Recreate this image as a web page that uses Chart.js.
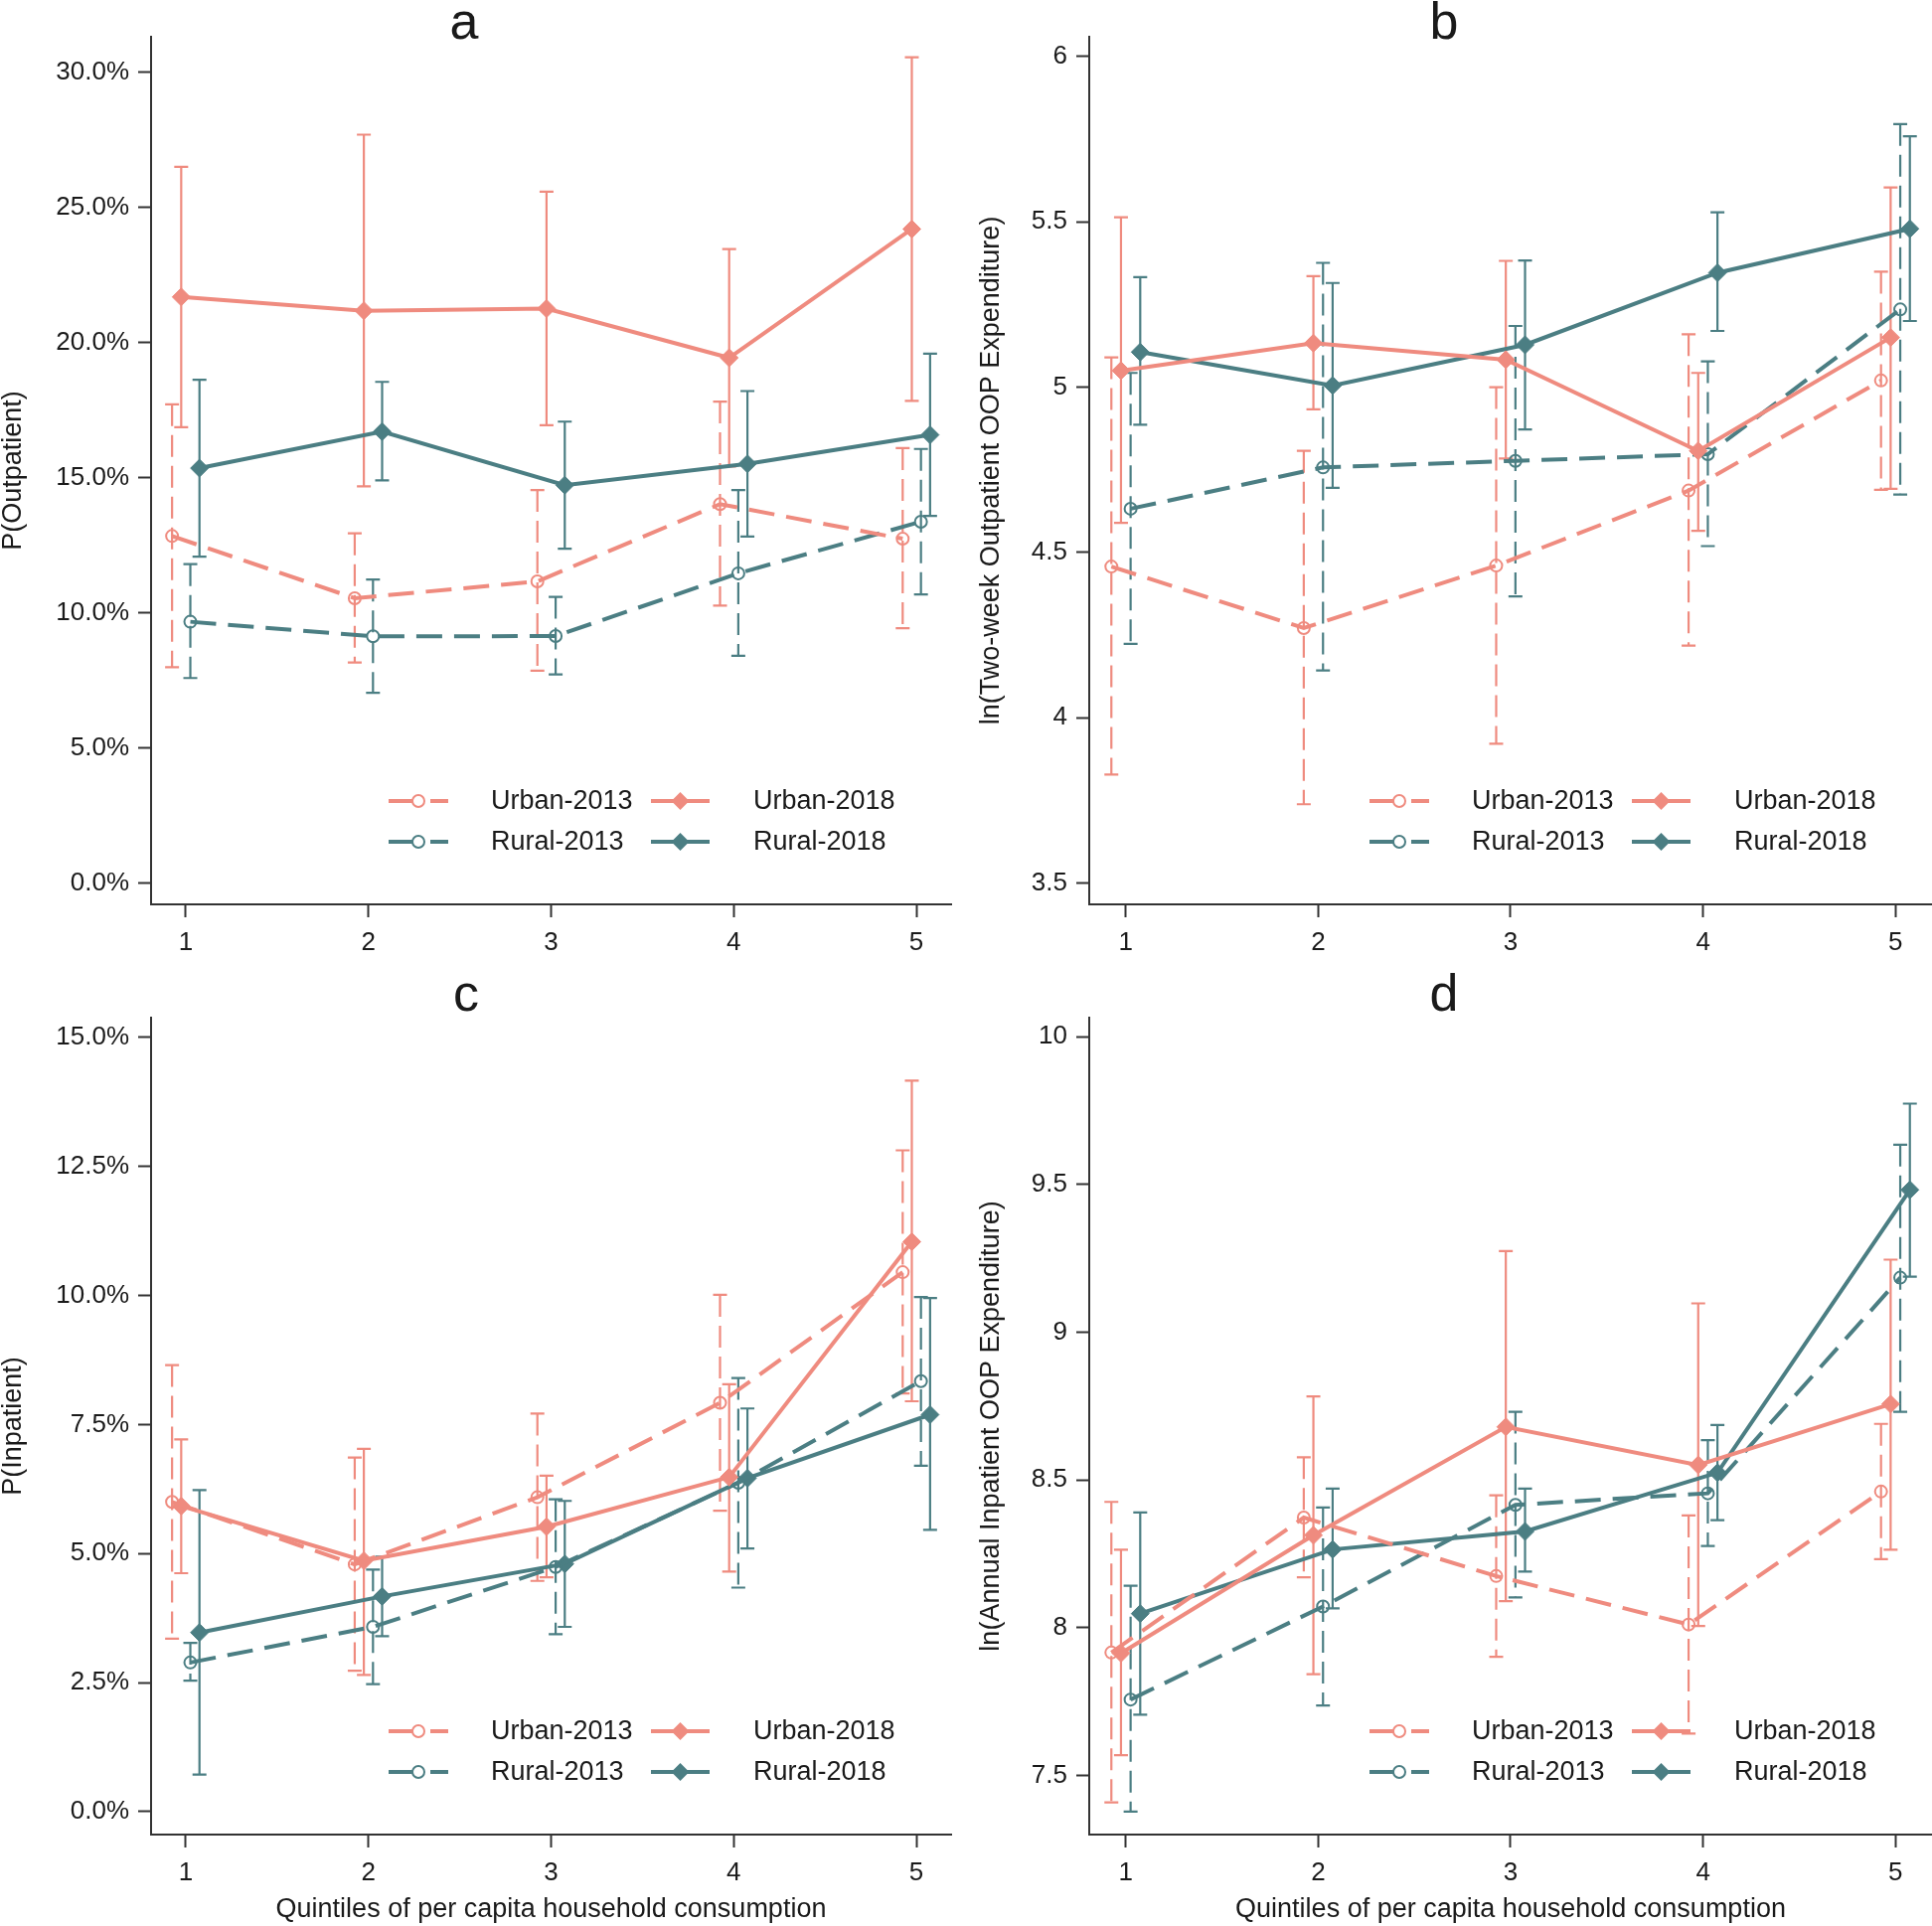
<!DOCTYPE html>
<html>
<head>
<meta charset="utf-8">
<title>Outpatient / inpatient use by consumption quintile</title>
<script src="https://cdn.jsdelivr.net/npm/chart.js@4.4.1/dist/chart.umd.min.js"></script>
<style>
    html, body { margin: 0; padding: 0; background: #fff; overflow: hidden; }
    #wrap { position: relative; width: 1944px; height: 1938px; overflow: hidden; }
    canvas { position: absolute; }
</style>
</head>
<body>
<div id="wrap">
    <canvas id="chartA" width="972" height="968" style="left:0;top:0"></canvas>
    <canvas id="chartB" width="969" height="968" style="left:975px;top:0"></canvas>
    <canvas id="chartC" width="972" height="970" style="left:0;top:968px"></canvas>
    <canvas id="chartD" width="969" height="970" style="left:975px;top:968px"></canvas>
</div>
<script>
// ============================================================
// data
// ============================================================

var QUINTILES = [1, 2, 3, 4, 5];
var SERIES    = ["Urban-2013", "Urban-2018", "Rural-2013", "Rural-2018"];
var DODGE     = [-0.075, -0.025, 0.025, 0.075];   // small horizontal shift per series
var X_TICKS   = [1, 2, 3, 4, 5];
var X_TITLE   = "Quintiles of per capita household consumption";

// a - P(Outpatient), in %
var A_U13    = [12.84, 10.54, 11.16, 14.02, 12.74];
var A_U13_LO = [7.99, 8.16, 7.86, 10.27, 9.43];
var A_U13_HI = [17.71, 12.94, 14.54, 17.81, 16.09];
var A_U18    = [21.68, 21.17, 21.25, 19.43, 24.19];
var A_U18_LO = [16.86, 14.68, 16.94, 15.41, 17.84];
var A_U18_HI = [26.49, 27.68, 25.57, 23.45, 30.54];
var A_R13    = [9.67, 9.13, 9.14, 11.46, 13.37];
var A_R13_LO = [7.59, 7.04, 7.72, 8.41, 10.68];
var A_R13_HI = [11.80, 11.23, 10.59, 14.54, 16.06];
var A_R18    = [15.35, 16.70, 14.72, 15.51, 16.58];
var A_R18_LO = [12.08, 14.90, 12.37, 12.82, 13.58];
var A_R18_HI = [18.62, 18.54, 17.07, 18.20, 19.58];
var A_TICKS  = [0, 5, 10, 15, 20, 25, 30];

// b - ln(two-week outpatient OOP expenditure)
var B_U13    = [4.457, 4.271, 4.460, 4.687, 5.020];
var B_U13_LO = [3.828, 3.738, 3.921, 4.218, 4.689];
var B_U13_HI = [5.090, 4.807, 5.000, 5.160, 5.349];
var B_U18    = [5.050, 5.133, 5.083, 4.807, 5.150];
var B_U18_LO = [4.589, 4.933, 4.784, 4.565, 4.692];
var B_U18_HI = [5.514, 5.336, 5.382, 5.043, 5.604];
var B_R13    = [4.632, 4.757, 4.777, 4.797, 5.235];
var B_R13_LO = [4.223, 4.143, 4.367, 4.519, 4.675];
var B_R13_HI = [5.043, 5.376, 5.185, 5.078, 5.796];
var B_R18    = [5.106, 5.005, 5.128, 5.346, 5.479];
var B_R18_LO = [4.886, 4.695, 4.872, 5.170, 5.200];
var B_R18_HI = [5.333, 5.315, 5.383, 5.529, 5.759];
var B_TICKS  = [3.5, 4, 4.5, 5, 5.5, 6];

// c - P(Inpatient), in %
var C_U13    = [6.00, 4.79, 6.09, 7.92, 10.45];
var C_U13_LO = [3.35, 2.73, 4.47, 5.83, 8.10];
var C_U13_HI = [8.65, 6.86, 7.71, 10.01, 12.81];
var C_U18    = [5.92, 4.86, 5.52, 6.48, 11.04];
var C_U18_LO = [4.62, 2.65, 4.54, 4.65, 7.95];
var C_U18_HI = [7.21, 7.03, 6.51, 8.28, 14.16];
var C_R13    = [2.89, 3.58, 4.74, 6.37, 8.34];
var C_R13_LO = [2.54, 2.47, 3.44, 4.34, 6.70];
var C_R13_HI = [3.27, 4.69, 6.05, 8.40, 9.97];
var C_R18    = [3.47, 4.17, 4.80, 6.46, 7.69];
var C_R18_LO = [0.72, 3.40, 3.58, 5.10, 5.46];
var C_R18_HI = [6.23, 4.94, 6.02, 7.81, 9.95];
var C_TICKS  = [0, 2.5, 5, 7.5, 10, 12.5, 15];

// d - ln(annual inpatient OOP expenditure)
var D_U13    = [7.916, 8.373, 8.175, 8.011, 8.461];
var D_U13_LO = [7.409, 8.171, 7.902, 7.642, 8.232];
var D_U13_HI = [8.426, 8.577, 8.448, 8.380, 8.690];
var D_U18    = [7.914, 8.313, 8.680, 8.551, 8.757];
var D_U18_LO = [7.569, 7.843, 8.090, 8.006, 8.264];
var D_U18_HI = [8.264, 8.783, 9.275, 9.098, 9.246];
var D_R13    = [7.757, 8.072, 8.416, 8.455, 9.185];
var D_R13_LO = [7.378, 7.737, 8.103, 8.277, 8.731];
var D_R13_HI = [8.142, 8.407, 8.731, 8.635, 9.635];
var D_R18    = [8.048, 8.265, 8.326, 8.525, 9.482];
var D_R18_LO = [7.706, 8.066, 8.190, 8.364, 9.188];
var D_R18_HI = [8.390, 8.471, 8.471, 8.686, 9.774];
var D_TICKS  = [7.5, 8, 8.5, 9, 9.5, 10];

// styling
var SALMON = "#EF8B7F";
var TEAL   = "#4B7E83";
var INK    = "#1a1a1a";
var FONT   = '"Liberation Sans", Arial, Helvetica, sans-serif';
var COLORS = [SALMON, SALMON, TEAL, TEAL];
var DASHED = [true, false, true, false];

Chart.defaults.font.family = FONT;
Chart.defaults.color = INK;


// ============================================================
// plugins: error bars, panel letter, legend
// ============================================================

var errorBarPlugin = {
    id: "errorBars",
    beforeDatasetsDraw: function (chart) {
        var ctx = chart.ctx;
        var xs = chart.scales.x, ys = chart.scales.y;
        chart.data.datasets.forEach(function (ds) {
            ctx.save();
            ctx.strokeStyle = ds.borderColor;
            ctx.lineWidth = 2.2;
            ds.data.forEach(function (p, i) {
                var x   = xs.getPixelForValue(p.x);
                var yLo = ys.getPixelForValue(ds.lo[i]);
                var yHi = ys.getPixelForValue(ds.hi[i]);
                ctx.setLineDash(ds.dashed ? [22, 9] : []);
                ctx.beginPath();
                ctx.moveTo(x, yHi);
                ctx.lineTo(x, yLo);
                ctx.stroke();
                ctx.setLineDash([]);
                ctx.beginPath();
                ctx.moveTo(x - 7, yHi); ctx.lineTo(x + 7, yHi);
                ctx.moveTo(x - 7, yLo); ctx.lineTo(x + 7, yLo);
                ctx.stroke();
            });
            ctx.restore();
        });
    }
};

function drawSample(ctx, ds, x0, x1, y) {
    ctx.save();
    ctx.strokeStyle = ds.borderColor;
    ctx.lineWidth = 4;
    ctx.setLineDash(ds.dashed ? [24, 18] : []);
    ctx.beginPath();
    ctx.moveTo(x0, y);
    ctx.lineTo(x1, y);
    ctx.stroke();
    ctx.setLineDash([]);
    var cx = (x0 + x1) / 2;
    if (ds.dashed) {
        ctx.fillStyle = "#fff";
        ctx.lineWidth = 2;
        ctx.beginPath();
        ctx.arc(cx, y, 6, 0, Math.PI * 2);
        ctx.fill();
        ctx.stroke();
    } else {
        ctx.fillStyle = ds.borderColor;
        ctx.beginPath();
        ctx.moveTo(cx, y - 9); ctx.lineTo(cx + 9, y);
        ctx.lineTo(cx, y + 9); ctx.lineTo(cx - 9, y);
        ctx.closePath();
        ctx.fill();
    }
    ctx.restore();
}

var decoPlugin = {
    id: "deco",
    afterDraw: function (chart, args, opts) {
        var ctx = chart.ctx;
        var area = chart.chartArea;
        var R = area.right, B = area.bottom;
        var ds = chart.data.datasets;

        // panel letter
        ctx.save();
        ctx.fillStyle = INK;
        ctx.font = "52px " + FONT;
        ctx.textAlign = "center";
        ctx.textBaseline = "alphabetic";
        ctx.fillText(opts.letter, opts.letterX, opts.letterY);
        ctx.restore();

        // legend: 2 x 2, right aligned in the plot
        var rows = [B - 104, B - 63];
        var cells = [[0, 1], [2, 3]];
        ctx.save();
        ctx.font = "27px " + FONT;
        ctx.fillStyle = INK;
        ctx.textBaseline = "middle";
        ctx.textAlign = "left";
        rows.forEach(function (y, r) {
            var a = ds[cells[r][0]], b = ds[cells[r][1]];
            drawSample(ctx, a, R - 566, R - 506, y);
            ctx.fillText(a.label, R - 463, y + 1);
            drawSample(ctx, b, R - 302, R - 243, y);
            ctx.fillText(b.label, R - 199, y + 1);
        });
        ctx.restore();
    }
};


// ============================================================
// build one panel
// ============================================================

function makePanel(id, p) {
    var datasets = p.mid.map(function (vals, s) {
        var circle = DASHED[s];
        return {
            label: SERIES[s],
            data: vals.map(function (v, i) { return { x: QUINTILES[i] + DODGE[s], y: v }; }),
            lo: p.lo[s],
            hi: p.hi[s],
            dashed: circle,
            borderColor: COLORS[s],
            backgroundColor: COLORS[s],
            borderWidth: 4,
            borderDash: circle ? [26, 12] : [],
            tension: 0,
            pointStyle: circle ? "circle" : "rectRot",
            pointRadius: circle ? 6 : 9,
            pointBorderWidth: circle ? 2 : 1,
            pointBorderColor: COLORS[s],
            pointBackgroundColor: circle ? "rgba(255,255,255,0)" : COLORS[s]
        };
    });

    var canvas = document.getElementById(id);
    var canvasH = canvas.height;

    new Chart(canvas.getContext("2d"), {
        type: "line",
        data: { datasets: datasets },
        plugins: [errorBarPlugin, decoPlugin],
        options: {
            responsive: false,
            animation: false,
            devicePixelRatio: 1,
            events: [],
            layout: {
                autoPadding: false,
                padding: { left: 0, top: p.top, right: p.right, bottom: 0 }
            },
            plugins: {
                legend:  { display: false },
                tooltip: { enabled: false },
                deco: { letter: p.letter, letterX: p.letterX, letterY: p.letterY }
            },
            scales: {
                x: {
                    type: "linear",
                    min: 0.81,
                    max: 5.19,
                    afterBuildTicks: function (s) { s.ticks = X_TICKS.map(function (v) { return { value: v }; }); },
                    afterFit: function (s) {
                        s.height = canvasH - p.bottom;
                        s.paddingLeft = 0;
                        s.paddingRight = 0;
                    },
                    border: { display: true, color: "#333", width: 2 },
                    grid: { drawOnChartArea: false, drawTicks: true, tickLength: 13, tickWidth: 2, tickColor: "#333" },
                    ticks: { font: { size: 26 }, color: INK, padding: 10, maxRotation: 0 },
                    title: {
                        display: p.xTitle,
                        text: X_TITLE,
                        color: INK,
                        font: { size: 27, lineHeight: 1 },
                        padding: { top: 0, bottom: 3 }
                    }
                },
                y: {
                    type: "linear",
                    min: p.yMin,
                    max: p.yMax,
                    afterBuildTicks: function (s) { s.ticks = p.ticks.map(function (v) { return { value: v }; }); },
                    afterFit: function (s) {
                        s.width = p.left;
                        s.paddingTop = 0;
                        s.paddingBottom = 0;
                    },
                    border: { display: true, color: "#333", width: 2 },
                    grid: { drawOnChartArea: false, drawTicks: true, tickLength: 13, tickWidth: 2, tickColor: "#333" },
                    ticks: {
                        font: { size: 26 },
                        color: INK,
                        padding: 9,
                        callback: p.fmt
                    },
                    title: {
                        display: true,
                        text: p.yTitle,
                        color: INK,
                        font: { size: 27, lineHeight: 1 },
                        padding: { top: p.yTitlePad, bottom: 0 }
                    }
                }
            }
        }
    });
}

function pct(v)  { return v.toFixed(1) + "%"; }
function plain(v) { return String(v); }


// ============================================================
// the four panels
// ============================================================

makePanel("chartA", {
    letter: "a", letterX: 467, letterY: 39,
    yTitle: "P(Outpatient)", yTitlePad: 0, xTitle: false,
    yMin: -0.78, yMax: 31.3, ticks: A_TICKS, fmt: pct,
    top: 37, right: 15, left: 152, bottom: 910,
    mid: [A_U13, A_U18, A_R13, A_R18],
    lo:  [A_U13_LO, A_U18_LO, A_R13_LO, A_R18_LO],
    hi:  [A_U13_HI, A_U18_HI, A_R13_HI, A_R18_HI]
});

makePanel("chartB", {
    letter: "b", letterX: 478, letterY: 39,
    yTitle: "ln(Two-week Outpatient OOP Expenditure)", yTitlePad: 9, xTitle: false,
    yMin: 3.435, yMax: 6.06, ticks: B_TICKS, fmt: plain,
    top: 37, right: 0, left: 121, bottom: 910,
    mid: [B_U13, B_U18, B_R13, B_R18],
    lo:  [B_U13_LO, B_U18_LO, B_R13_LO, B_R18_LO],
    hi:  [B_U13_HI, B_U18_HI, B_R13_HI, B_R18_HI]
});

makePanel("chartC", {
    letter: "c", letterX: 469, letterY: 49,
    yTitle: "P(Inpatient)", yTitlePad: 0, xTitle: true,
    yMin: -0.443, yMax: 15.38, ticks: C_TICKS, fmt: pct,
    top: 56, right: 15, left: 152, bottom: 878,
    mid: [C_U13, C_U18, C_R13, C_R18],
    lo:  [C_U13_LO, C_U18_LO, C_R13_LO, C_R18_LO],
    hi:  [C_U13_HI, C_U18_HI, C_R13_HI, C_R18_HI]
});

makePanel("chartD", {
    letter: "d", letterX: 478, letterY: 49,
    yTitle: "ln(Annual Inpatient OOP Expenditure)", yTitlePad: 9, xTitle: true,
    yMin: 7.30, yMax: 10.065, ticks: D_TICKS, fmt: plain,
    top: 56, right: 0, left: 121, bottom: 878,
    mid: [D_U13, D_U18, D_R13, D_R18],
    lo:  [D_U13_LO, D_U18_LO, D_R13_LO, D_R18_LO],
    hi:  [D_U13_HI, D_U18_HI, D_R13_HI, D_R18_HI]
});
</script>
</body>
</html>
